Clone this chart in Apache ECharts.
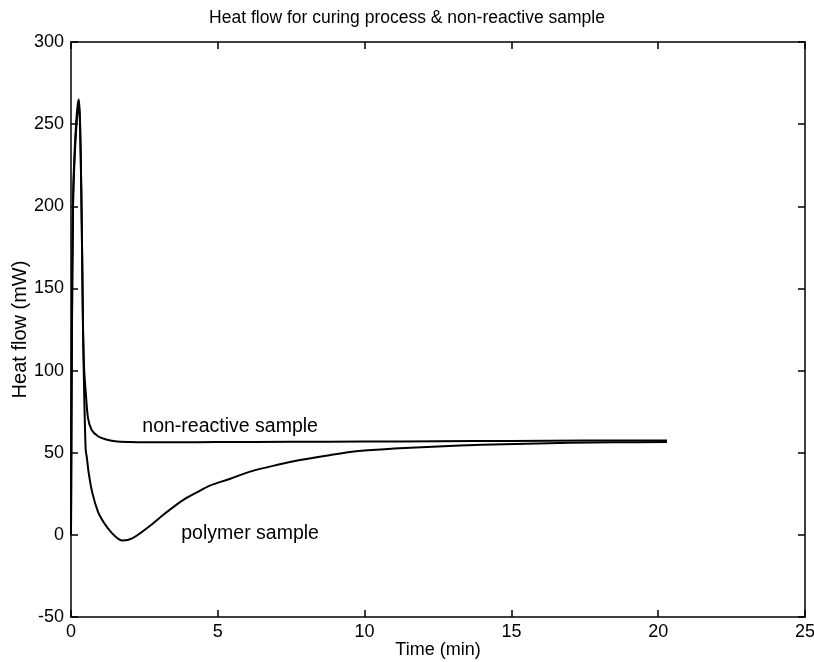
<!DOCTYPE html>
<html>
<head>
<meta charset="utf-8">
<script src="https://cdn.jsdelivr.net/npm/echarts@6/dist/echarts.min.js"></script>
<style>
  html, body { margin: 0; padding: 0; background: #fff; }
  #main { width: 814px; height: 662px; }
</style>
</head>
<body>
<div id="main"></div>
<script>
// data (time in min, heat flow in mW)
const polymerTime = [0, 0.03, 0.07, 0.12, 0.18, 0.23, 0.27, 0.31, 0.35, 0.38, 0.41, 0.45, 0.5, 0.54, 0.6, 0.72, 0.92, 1.1, 1.26, 1.45, 1.75, 2.1, 2.69, 3.2, 3.8, 4.3, 4.73, 5.4, 6.1, 7, 7.8, 8.8, 9.8, 11, 12.5, 14, 15.5, 17, 18.5, 20.3]
const polymerFlow = [0, 120, 205, 232, 252, 262, 265, 250, 210, 170, 125, 85, 52, 47, 38, 26, 14, 8, 4, 0, -3.5, -2, 5.5, 13, 21, 26, 30, 34, 38.5, 42.5, 45.5, 48.5, 51, 52.5, 53.8, 54.8, 55.5, 56, 56.3, 56.5]
const nonReactTime = [0, 0.03, 0.07, 0.12, 0.18, 0.23, 0.27, 0.31, 0.35, 0.38, 0.41, 0.45, 0.51, 0.58, 0.7, 0.92, 1.2, 1.5, 2, 2.5, 3.5, 5, 7.5, 10, 12.5, 15, 17.5, 20.3]
const nonReactFlow = [0, 118, 200, 228, 248, 258, 262, 248, 210, 170, 125, 100, 85, 71, 64, 60, 58, 57, 56.5, 56.3, 56.3, 56.5, 56.6, 56.8, 57, 57.2, 57.4, 57.5]
const xTicks = [0, 5, 10, 15, 20, 25]
const yTicks = [-50, 0, 50, 100, 150, 200, 250, 300]
const labels = [
  { name: 'non-reactive sample', at: [5.42, 66] },
  { name: 'polymer sample', at: [6.1, 0.5] }
]

const chart = echarts.init(document.getElementById('main'))
const font = 'Liberation Sans, Arial, Helvetica, sans-serif'

const axisCommon = {
  type: 'value',
  axisLine: { show: true, onZero: false, lineStyle: { color: '#000', width: 1.5 } },
  axisTick: { show: true, inside: true, length: 7, lineStyle: { color: '#000', width: 1.5 } },
  splitLine: { show: false }
}

const option = {
  backgroundColor: '#fff',
  animation: false,
  title: {
    text: 'Heat flow for curing process & non-reactive sample',
    left: 'center',
    top: 4,
    textStyle: { fontFamily: font, fontSize: 17.5, fontWeight: 'normal', color: '#000' }
  },
  grid: { left: 71, top: 42, right: 9, bottom: 45, containLabel: false, outerBoundsMode: 'none' },
  xAxis: [
    Object.assign({}, axisCommon, {
      min: xTicks[0], max: xTicks[xTicks.length - 1], interval: 5,
      name: 'Time (min)', nameLocation: 'middle', nameGap: 24, nameMoveOverlap: false,
      nameTextStyle: { fontFamily: font, fontSize: 18, color: '#000' },
      axisLabel: { fontFamily: font, fontSize: 18, color: '#000', margin: 6 }
    }),
    Object.assign({}, axisCommon, {
      position: 'top', min: xTicks[0], max: xTicks[xTicks.length - 1], interval: 5,
      axisLabel: { show: false }
    })
  ],
  yAxis: [
    Object.assign({}, axisCommon, {
      min: yTicks[0], max: yTicks[yTicks.length - 1], interval: 50,
      name: 'Heat flow (mW)', nameLocation: 'middle', nameGap: 41, nameMoveOverlap: false,
      nameTextStyle: { fontFamily: font, fontSize: 20, color: '#000' },
      axisLabel: { fontFamily: font, fontSize: 18, color: '#000', margin: 7 }
    }),
    Object.assign({}, axisCommon, {
      position: 'right', min: yTicks[0], max: yTicks[yTicks.length - 1], interval: 50,
      axisLabel: { show: false }
    })
  ],
  series: [
    {
      name: 'non-reactive',
      type: 'line',
      showSymbol: false,
      smooth: 0.3,
      lineStyle: { color: '#000', width: 2 },
      data: nonReactTime.map((t, i) => [t, nonReactFlow[i]]),
      markPoint: {
        symbol: 'circle', symbolSize: 0,
        label: { show: true, formatter: p => p.name, fontFamily: font, fontSize: 19.5, color: '#000' },
        data: [{ name: labels[0].name, coord: labels[0].at }]
      }
    },
    {
      name: 'polymer',
      type: 'line',
      showSymbol: false,
      smooth: 0.3,
      lineStyle: { color: '#000', width: 2 },
      data: polymerTime.map((t, i) => [t, polymerFlow[i]]),
      markPoint: {
        symbol: 'circle', symbolSize: 0,
        label: { show: true, formatter: p => p.name, fontFamily: font, fontSize: 19.5, color: '#000' },
        data: [{ name: labels[1].name, coord: labels[1].at }]
      }
    }
  ]
}
chart.setOption(option)
</script>
</body>
</html>
